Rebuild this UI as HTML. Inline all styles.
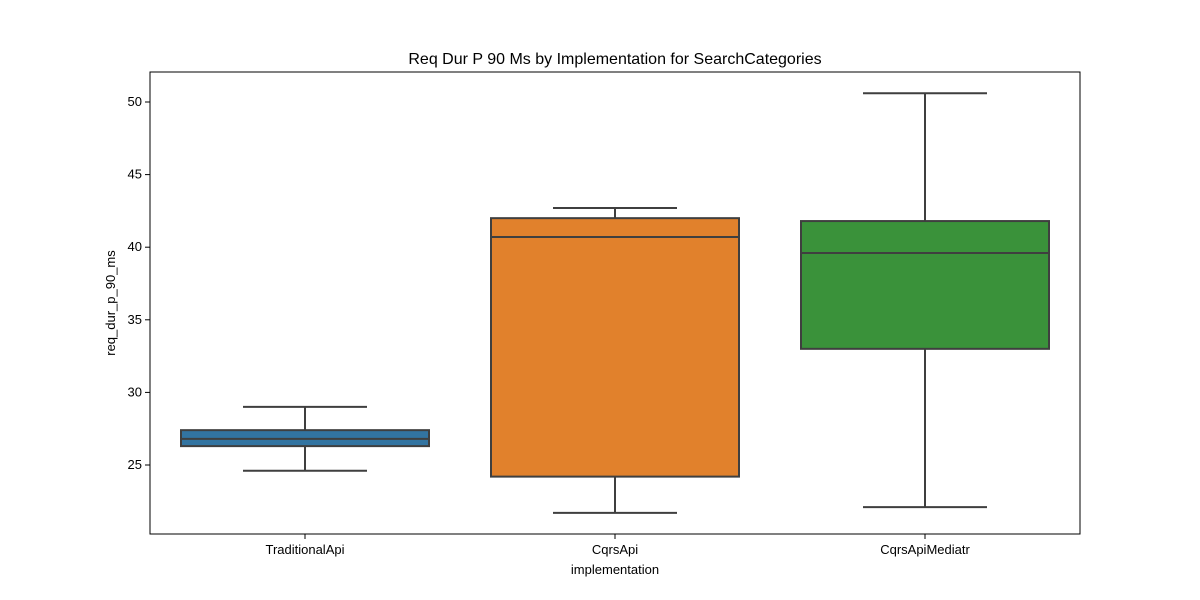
<!DOCTYPE html>
<html><head><meta charset="utf-8"><style>body{margin:0;background:#fff}svg{display:block;font-family:"Liberation Sans","DejaVu Sans",sans-serif}</style></head>
<body>
<svg id="chart" width="1200" height="600">
<rect width="1200" height="600" fill="#fff"/>
<text x="615" y="64" text-anchor="middle" font-size="16">Req Dur P 90 Ms by Implementation for SearchCategories</text>
<g id="plot"></g>
<rect x="150" y="72" width="930" height="462" fill="none" stroke="#000" stroke-width="1"/>
<text x="615" y="574" text-anchor="middle" font-size="13">implementation</text>
<text transform="translate(115,303) rotate(-90)" text-anchor="middle" font-size="13">req_dur_p_90_ms</text>
</svg>
<script>
const categories=["TraditionalApi","CqrsApi","CqrsApiMediatr"];
const mins=[24.6,21.7,22.1];
const q1s=[26.3,24.2,33.0];
const medians=[26.8,40.7,39.6];
const q3s=[27.4,42.0,41.8];
const maxs=[29.0,42.7,50.6];
const yTicks=[25,30,35,40,45,50];
const colors=["#3274a1","#e1812c","#3a923a"];
const ns="http://www.w3.org/2000/svg";
const L=150,R=1080,T=72,B=534;
const y=v=>465-(v-25)*14.52;
const bw=(R-L)/categories.length;
const x=i=>L+bw*(i+0.5);
const g=document.getElementById('plot');
function mk(t,a){const e=document.createElementNS(ns,t);for(const k in a)e.setAttribute(k,a[k]);g.appendChild(e);return e;}
yTicks.forEach(v=>{
 const l=mk('line',{x1:L-5,x2:L,y1:y(v),y2:y(v),stroke:'#000'});
 
 
 const t=mk('text',{x:L-8,y:y(v)+4,'text-anchor':'end','font-size':13});
 t.textContent=v;
 
 
});
categories.forEach((c,i)=>{
 const cx=x(i),hw=bw*0.4,cw=bw*0.2;
 const l=mk('line',{x1:cx,x2:cx,y1:B,y2:B+5,stroke:'#000'});
 
 
 const t=mk('text',{x:cx,y:B+20,'text-anchor':'middle','font-size':13});
 t.textContent=c;
 
 
 const st={stroke:'#3f3f3f','stroke-width':2};
 const w1=mk('line',Object.assign({x1:cx,x2:cx,y1:y(q3s[i]),y2:y(maxs[i])},st));
 
 
 const w2=mk('line',Object.assign({x1:cx,x2:cx,y1:y(q1s[i]),y2:y(mins[i])},st));
 
 
 const c1=mk('line',Object.assign({x1:cx-cw,x2:cx+cw,y1:y(maxs[i]),y2:y(maxs[i])},st));
 
 
 const c2=mk('line',Object.assign({x1:cx-cw,x2:cx+cw,y1:y(mins[i]),y2:y(mins[i])},st));
 
 
 const b=mk('rect',Object.assign({x:cx-hw,width:hw*2,y:y(q3s[i]),height:y(q1s[i])-y(q3s[i]),fill:colors[i]},st));
 
 
 const m=mk('line',Object.assign({x1:cx-hw,x2:cx+hw,y1:y(medians[i]),y2:y(medians[i])},st));
 
 
});
</script>
</body></html>
